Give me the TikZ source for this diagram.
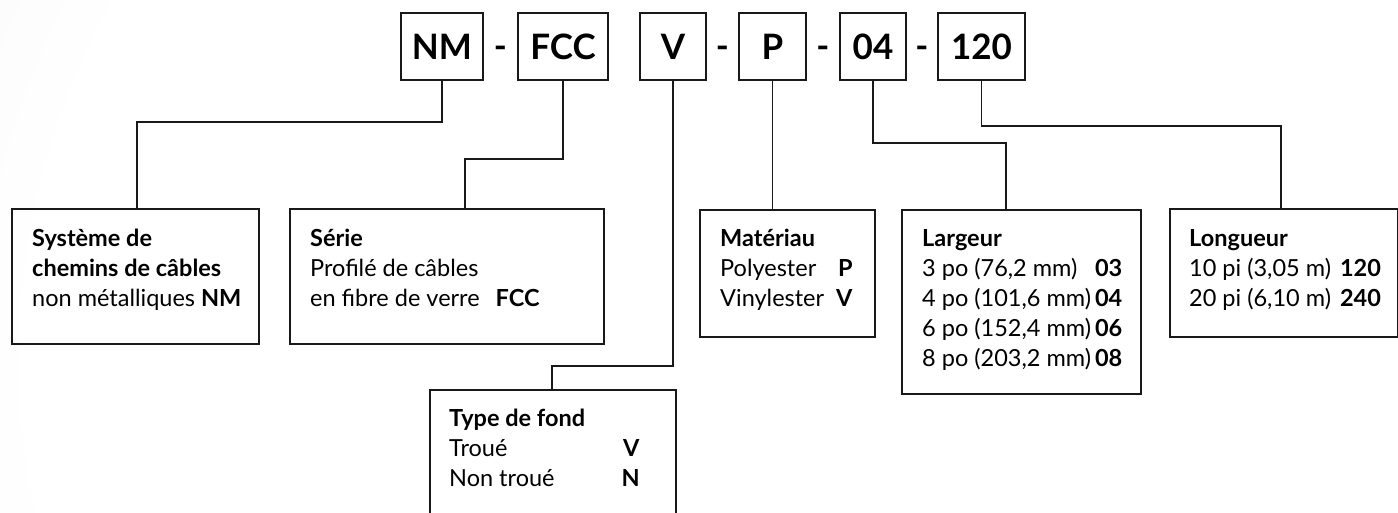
\documentclass[tikz,border=0pt]{standalone}
\usepackage{fontspec}
\setmainfont{Lato}
\usepackage{tikz}
\usetikzlibrary{positioning,calc}
\definecolor{inkC}{rgb}{0.10,0.10,0.10}
\pgfdeclareradialshading{paper}{\pgfpoint{0bp}{0bp}}{color(0bp)=(white); color(22bp)=(white); color(50bp)=(black!9); color(72bp)=(black!9)}

\begin{document}
\begin{tikzpicture}[
  x=1pt,y=-1pt,
  codebox/.style={draw=inkC,line width=2pt,minimum height=67pt,inner sep=0pt,
                  font=\fontsize{35}{40}\selectfont\bfseries},
  hyph/.style={font=\fontsize{35}{40}\selectfont\bfseries,inner sep=0pt,anchor=base},
  descbox/.style={draw=inkC,line width=1.6pt,anchor=north west,inner sep=0pt},
  desc/.style={anchor=base west,inner sep=0pt,font=\fontsize{23.5}{30}\selectfont},
  link/.style={draw=inkC,line width=1.6pt}
]
  \useasboundingbox (0,0) rectangle (1398,512);
  \clip (0,0) rectangle (1398,512);
  % Background
  \path[shading=paper] (-60,-460) rectangle (1580,1180);

  % Code boxes
  \node[codebox,minimum width=82pt] (nm) at (442,46.5) {NM};
  \node[codebox,minimum width=90pt] (fcc) at (563,46.5) {FCC};
  \node[codebox,minimum width=66pt] (vcode) at (673,46.5) {V};
  \node[codebox,minimum width=67pt] (pcode) at (772.5,46.5) {P};
  \node[codebox,minimum width=66pt] (c04) at (873,46.5) {04};
  \node[codebox,minimum width=87pt] (c120) at (981.5,46.5) {120};

  % Hyphens
  \node[hyph] (h1) at ($(nm.east)!.5!(fcc.west)+(0,12)$) {-};
  \node[hyph] (h2) at ($(vcode.east)!.5!(pcode.west)+(0,12)$) {-};
  \node[hyph] (h3) at ($(pcode.east)!.5!(c04.west)+(0,12)$) {-};
  \node[hyph] (h4) at ($(c04.east)!.5!(c120.west)+(0,12)$) {-};

  % Description boxes
  \node[descbox,minimum width=247pt,minimum height=135pt] (sysbox) at (11,208) {};
  \node[descbox,minimum width=314pt,minimum height=135pt] (seriebox) at (289,208) {};
  \node[descbox,minimum width=175pt,minimum height=127pt] (matbox) at (699,209) {};
  \node[descbox,minimum width=239pt,minimum height=184pt] (largbox) at (901,209) {};
  \node[descbox,minimum width=228pt,minimum height=128pt] (longbox) at (1169,208) {};
  \node[descbox,minimum width=246pt,minimum height=140pt] (typebox) at (429,389) {};

  % Texts
  \node[desc] (systxt) at ([shift={(21,38)}]sysbox.north west)
    {\begin{tabular}[t]{@{}l@{}}
     \textbf{Système de}\\
     \textbf{chemins de câbles}\\
     non métalliques \textbf{NM}
     \end{tabular}};
  \node[desc] (serietxt) at ([shift={(21,38)}]seriebox.north west)
    {\begin{tabular}[t]{@{}l@{}}
     \textbf{Série}\\
     Profilé de câbles\\
     en fibre de verre\hspace{16pt}\textbf{FCC}
     \end{tabular}};
  \node[desc] (mattxt) at ([shift={(21,37)}]matbox.north west)
    {\begin{tabular}[t]{@{}l@{\hspace{12pt}}r@{}}
     \multicolumn{2}{@{}l@{}}{\textbf{Matériau}}\\
     Polyester & \textbf{P}\\
     Vinylester & \textbf{V}
     \end{tabular}};
  \node[desc] (largtxt) at ([shift={(21,37)}]largbox.north west)
    {\begin{tabular}[t]{@{}l@{\hspace{4pt}}l@{}}
     \multicolumn{2}{@{}l@{}}{\textbf{Largeur}}\\
     3 po (76,2 mm) & \textbf{03}\\
     4 po (101,6 mm) & \textbf{04}\\
     6 po (152,4 mm) & \textbf{06}\\
     8 po (203,2 mm) & \textbf{08}
     \end{tabular}};
  \node[desc] (longtxt) at ([shift={(20,38)}]longbox.north west)
    {\begin{tabular}[t]{@{}l@{\hspace{9pt}}r@{}}
     \multicolumn{2}{@{}l@{}}{\textbf{Longueur}}\\
     10 pi (3,05 m) & \textbf{120}\\
     20 pi (6,10 m) & \textbf{240}
     \end{tabular}};
  \node[desc] (typetxt) at ([shift={(20,37)}]typebox.north west)
    {\begin{tabular}[t]{@{}l@{\hspace{67pt}}r@{}}
     \multicolumn{2}{@{}l@{}}{\textbf{Type de fond}}\\
     Troué & \textbf{V}\\
     Non troué & \textbf{N}
     \end{tabular}};

  % Connectors
  \draw[link] (nm.south) -- ++(0,41) -| ([xshift=126pt]sysbox.north west);
  \draw[link] (fcc.south) -- ++(0,78) -| ([xshift=176pt]seriebox.north west);
  \draw[link] (vcode.south) -- ++(0,285) -| ([xshift=123pt]typebox.north west);
  \draw[link] (pcode.south) -- (pcode.south |- matbox.north);
  \draw[link] (c04.south) -- ++(0,62) -| ([xshift=105pt]largbox.north west);
  \draw[link] (c120.south) -- ++(0,45) -| ([xshift=112pt]longbox.north west);
\end{tikzpicture}
\end{document}
